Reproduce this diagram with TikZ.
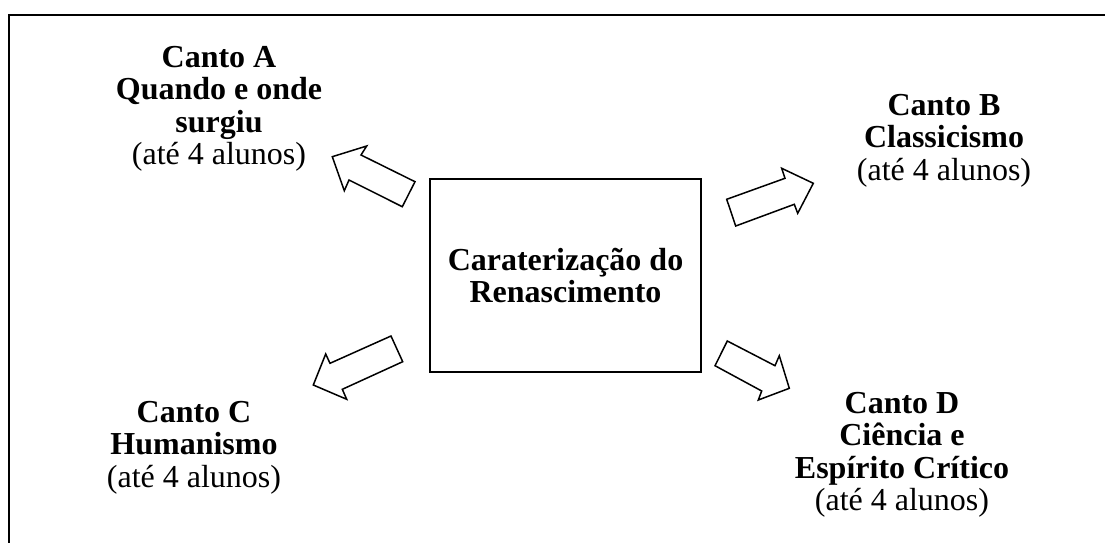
\documentclass[tikz,border=0pt]{standalone}
\usepackage{fontspec}
\setmainfont{Liberation Serif}
\newcommand\cantofont{\fontsize{32}{32.5}\selectfont}
\tikzset{
  lbl/.style={anchor=base, inner sep=0pt, font=\cantofont},
  blockarrow/.style={draw, line width=1.5pt, line join=miter, fill=white},
  frameline/.style={line width=2pt},
  centerbox/.style={draw, line width=2.3pt, minimum width=271pt, minimum height=193pt, inner sep=0pt}
}
\begin{document}
\begin{tikzpicture}[x=1pt,y=-1pt]
\useasboundingbox (0,0) rectangle (1105,543);
% frame (top and left edges)
\draw[frameline] (9,543) -- (9,15) -- (1105,15);

% central box
\node[centerbox] (ctr) at (565.5,275.5) {};
\node[lbl] (ctrtext) at (565.5,270) {\begin{tabular}[t]{@{}c@{}}\textbf{Caraterização do}\\ \textbf{Renascimento}\end{tabular}};

% corner texts
\node[lbl] (cantoA) at (219,67) {\begin{tabular}[t]{@{}c@{}}\textbf{Canto A}\\ \textbf{Quando e onde}\\ \textbf{surgiu}\\ (até 4 alunos)\end{tabular}};
\node[lbl] (cantoB) at (944,115) {\begin{tabular}[t]{@{}c@{}}\textbf{Canto B}\\ \textbf{Classicismo}\\ (até 4 alunos)\end{tabular}};
\node[lbl] (cantoC) at (194,422) {\begin{tabular}[t]{@{}c@{}}\textbf{Canto C}\\ \textbf{Humanismo}\\ (até 4 alunos)\end{tabular}};
\node[lbl] (cantoD) at (902,413) {\begin{tabular}[t]{@{}c@{}}\textbf{Canto D}\\ \textbf{Ciência e}\\ \textbf{Espírito Crítico}\\ (até 4 alunos)\end{tabular}};

% block arrows
% A: up-left
\draw[blockarrow] (332.3,156.7) -- (366.7,146) -- (361,155) -- (415,181.7) -- (402.3,206.7) -- (349,180) -- (344.3,190.7) -- cycle;
% B: up-right
\draw[blockarrow] (813.3,183.3) -- (797.7,213.3) -- (794.3,204.3) -- (735.7,226) -- (726.7,199.3) -- (785,178.3) -- (781.7,168.3) -- cycle;
% C: down-left
\draw[blockarrow] (313.3,385) -- (325.7,354) -- (330,363.3) -- (391,336) -- (402.7,361.7) -- (342.3,389.3) -- (346.7,399.3) -- cycle;
% D: down-right
\draw[blockarrow] (789.3,388.3) -- (758.3,400) -- (761.7,391) -- (715,365.7) -- (727.3,341) -- (775,365.7) -- (779.3,355.7) -- cycle;
\end{tikzpicture}
\end{document}
